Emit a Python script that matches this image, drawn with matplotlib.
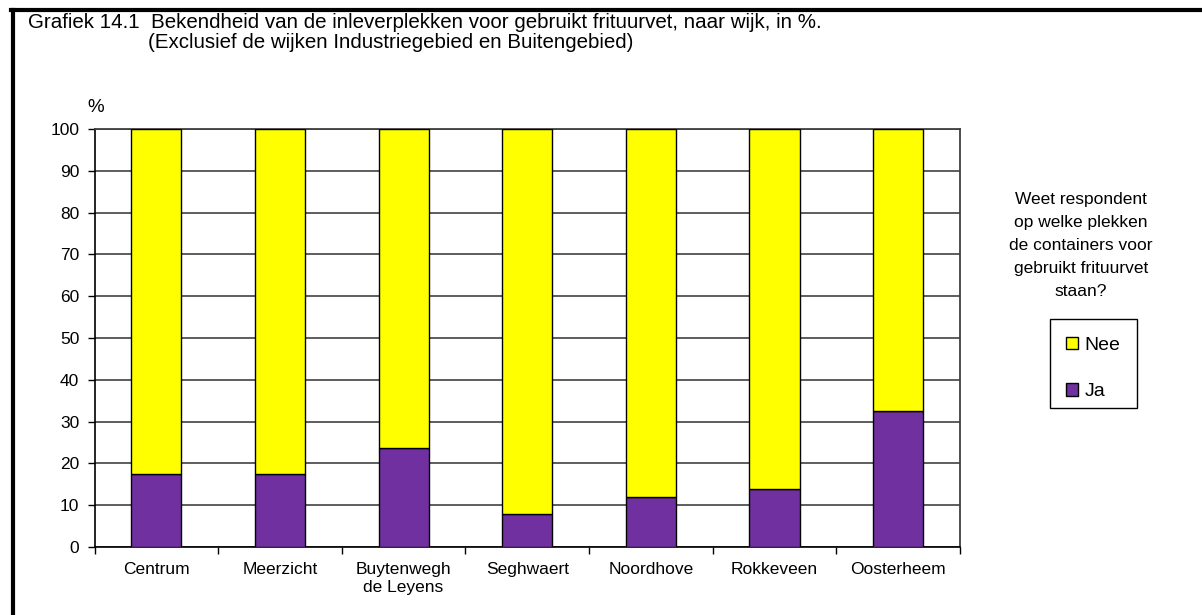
import numpy as np
import matplotlib.pyplot as plt
from matplotlib.patches import Patch, Rectangle
from matplotlib.lines import Line2D

plt.rcParams['font.family'] = ['Liberation Sans', 'DejaVu Sans']

wijken = ['Centrum', 'Meerzicht', 'Buytenwegh\nde Leyens', 'Seghwaert',
          'Noordhove', 'Rokkeveen', 'Oosterheem']
ja = [17.4, 17.4, 23.6, 7.8, 12.0, 13.8, 32.5]
nee = [100 - v for v in ja]
yticks = list(range(0, 101, 10))

W, H = 1202, 615
fig = plt.figure(figsize=(W / 100, H / 100), dpi=100)

# outer frame (only top and left visible)
fig.add_artist(Line2D([12.5 / W, 12.5 / W], [0, 1 - 10 / H], color='black', lw=3))
fig.add_artist(Line2D([11 / W, 1], [1 - 10 / H, 1 - 10 / H], color='black', lw=3))

ax = fig.add_axes([94.5 / W, 1 - 547 / H, (960 - 94.5) / W, (547 - 129) / H])
x = np.arange(len(wijken))
ax.bar(x, ja, width=0.405, color='#7030A0', edgecolor='black', lw=1, zorder=3, label='Ja')
ax.bar(x, nee, bottom=ja, width=0.405, color='#FFFF00', edgecolor='black', lw=1, zorder=3, label='Nee')

ax.set_xlim(-0.5, len(wijken) - 0.5)
ax.set_ylim(0, 100)
ax.set_yticks(yticks)
ax.set_yticklabels([str(v) for v in yticks], fontsize=12.5)
ax.yaxis.grid(True, color='#505050', lw=1.3, zorder=0)
ax.tick_params(axis='y', direction='out', length=5, width=1, pad=6)

ax.set_xticks(x)
ax.set_xticklabels(wijken, fontsize=12.5, linespacing=1.25)
ax.set_xticks(np.arange(-0.5, len(wijken)), minor=True)
ax.tick_params(axis='x', which='major', length=0, pad=11)
ax.tick_params(axis='x', which='minor', direction='out', length=5, width=1)

for s in ['left', 'bottom']:
    ax.spines[s].set_color('black')
    ax.spines[s].set_linewidth(1.2)
for s in ['top', 'right']:
    ax.spines[s].set_color('#404040')
    ax.spines[s].set_linewidth(1.3)

fig.text(28 / W, 1 - 22 / H, 'Grafiek 14.1  Bekendheid van de inleverplekken voor gebruikt frituurvet, naar wijk, in %.',
         fontsize=14.8, va='center', ha='left')
fig.text(148 / W, 1 - 43 / H, '(Exclusief de wijken Industriegebied en Buitengebied)',
         fontsize=14.8, va='center', ha='left')
fig.text(95.5 / W, 1 - 107.5 / H, '%', fontsize=13.5, va='center', ha='center')

fig.text(1081 / W, 1 - 245.5 / H, 'Weet respondent\nop welke plekken\nde containers voor\ngebruikt frituurvet\nstaan?',
         fontsize=12.5, va='center', ha='center', linespacing=1.65)

# legend box drawn separately
fig.add_artist(Rectangle((1050 / W, 1 - 408 / H), 87 / W, 89 / H, transform=fig.transFigure,
                         facecolor='none', edgecolor='black', lw=1))
handles = [Patch(facecolor='#FFFF00', edgecolor='black', lw=1, label='Nee'),
           Patch(facecolor='#7030A0', edgecolor='black', lw=1, label='Ja')]
leg = fig.legend(handles=handles, loc='upper left', bbox_to_anchor=(1066 / W, 1 - 337 / H),
                 fontsize=14, frameon=False,
                 handlelength=0.6, handleheight=0.6, handletextpad=0.35,
                 labelspacing=1.5, borderpad=0, borderaxespad=0)

fig.savefig('out.png', dpi=100)
